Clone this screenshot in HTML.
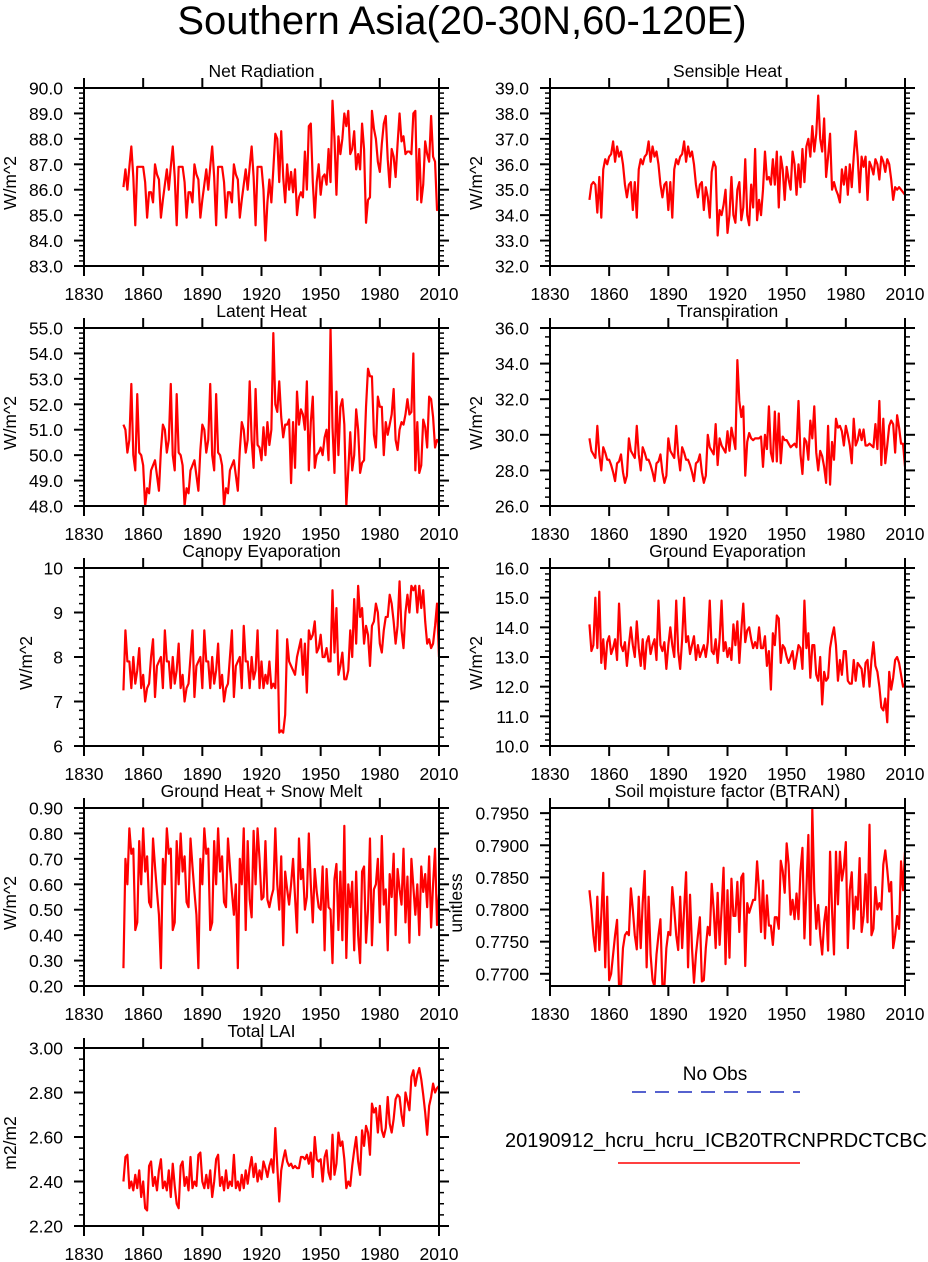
<!DOCTYPE html>
<html><head><meta charset="utf-8"><style>
html,body{margin:0;padding:0;background:#fff;}
svg{display:block;font-family:"Liberation Sans",Arial,sans-serif;}
</style></head><body>
<svg id="fig" width="928" height="1262" viewBox="0 0 928 1262" xmlns="http://www.w3.org/2000/svg">
<text x="462" y="34" text-anchor="middle" font-size="40">Southern Asia(20-30N,60-120E)</text>
<g>
<text x="715" y="1080" text-anchor="middle" font-size="19">No Obs</text>
<line x1="632" y1="1092" x2="800" y2="1092" stroke="#1f2fbf" stroke-width="1.5" stroke-dasharray="14,9"/>
<text x="716" y="1147" text-anchor="middle" font-size="20" textLength="422">20190912_hcru_hcru_ICB20TRCNPRDCTCBC</text>
<line x1="618" y1="1163" x2="800" y2="1163" stroke="#ff0000" stroke-width="1.5"/>
</g>
</svg>
<script>
const years0 = 1850;
const xTicks = [1830,1860,1890,1920,1950,1980,2010];
const netRad = [86.1,86.8,86.0,86.9,87.7,86.5,84.6,86.9,86.9,86.9, 86.9,86.3,84.9,85.9,85.9,85.5,87.0,86.6,86.4,84.9, 85.6,86.2,86.8,86.0,86.9,87.7,86.5,84.6,86.9,86.9, 86.9,86.3,84.9,85.9,85.9,85.5,87.0,86.6,86.4,84.9, 85.6,86.2,86.8,86.0,86.9,87.7,86.5,84.6,86.9,86.9, 86.9,86.3,84.9,85.9,85.9,85.5,87.0,86.6,86.4,84.9, 85.6,86.2,86.8,86.0,86.9,87.7,86.5,84.6,86.9,86.9, 86.9,86.0,84.0,85.5,86.4,85.5,86.8,88.2,88.0,86.3, 88.3,86.5,85.5,87.0,86.0,86.7,85.9,86.8,85.0,85.7, 85.9,85.7,87.5,86.0,88.5,88.6,86.3,84.9,86.3,87.0, 85.8,86.5,86.6,86.2,87.6,86.3,89.5,88.0,85.8,88.1, 87.4,88.0,89.0,88.5,89.1,87.4,87.6,88.3,86.8,87.4, 86.8,88.6,87.6,84.7,85.6,85.7,89.1,88.4,88.0,87.1, 86.7,87.8,88.6,88.9,87.2,86.1,87.6,87.3,86.5,87.8, 89.0,87.9,88.1,87.4,87.5,87.5,87.4,89.0,89.1,85.6, 87.6,85.5,86.2,87.9,87.4,87.1,88.9,87.3,87.1,85.2, 85.3];
const sensible = [34.6,35.2,35.3,35.2,34.1,35.5,33.9,35.8,36.2,36.0, 36.3,36.4,36.9,36.1,36.7,36.3,36.5,36.0,35.2,34.7, 35.2,35.3,34.2,35.3,33.9,35.8,36.2,36.0,36.3,36.4, 36.9,36.1,36.7,36.3,36.5,36.0,35.2,34.7,35.2,35.3, 34.2,35.3,33.9,35.8,36.2,36.0,36.3,36.4,36.9,36.1, 36.7,36.3,36.5,36.0,35.2,34.7,35.2,35.3,34.2,35.1, 34.7,33.9,35.7,36.1,35.9,33.2,34.2,34.0,34.4,35.0, 33.3,34.0,35.5,34.0,33.7,35.0,35.3,33.8,34.3,36.2, 34.0,33.6,35.2,34.3,36.6,33.8,34.6,34.0,35.0,36.5, 35.4,35.5,35.2,36.2,35.2,36.5,34.3,36.3,35.8,34.6, 35.9,35.4,35.0,36.5,36.0,34.8,36.0,35.1,36.6,35.3, 36.7,37.0,36.3,37.5,36.5,37.2,38.7,37.0,36.5,37.8, 35.5,36.3,37.2,35.0,35.3,35.0,34.8,34.5,35.8,35.2, 35.9,34.8,36.0,35.1,36.3,37.3,36.3,34.9,36.3,35.9, 36.3,34.6,36.1,35.9,35.6,36.2,36.0,35.4,36.3,36.1, 35.7,36.2,36.0,35.4,34.6,35.1,35.0,35.1,35.0,34.9, 34.8];
const latent = [51.2,51.0,50.1,50.6,52.8,50.0,49.4,52.4,50.1,50.0, 49.6,48.0,48.7,48.5,49.4,49.6,49.8,49.2,48.6,50.2, 51.2,51.0,50.1,50.6,52.8,50.0,49.4,52.4,50.1,50.0, 49.6,48.0,48.7,48.5,49.4,49.6,49.8,49.2,48.6,50.2, 51.2,51.0,50.1,50.6,52.8,50.0,49.4,52.4,50.1,50.0, 49.6,48.0,48.7,48.5,49.4,49.6,49.8,49.2,48.6,50.2, 51.3,51.0,50.1,50.6,52.9,50.6,49.5,52.6,50.4,50.3, 49.8,51.1,50.0,51.3,50.4,51.0,54.8,52.0,51.7,52.9, 51.5,50.7,51.2,51.2,51.4,48.9,51.3,49.5,52.5,51.2, 51.8,51.6,51.0,52.9,49.4,51.3,52.3,49.5,50.0,50.1, 50.3,50.0,50.7,51.0,49.8,55.0,51.1,49.3,52.5,50.0, 51.9,52.2,51.2,48.0,49.4,50.9,49.4,50.0,51.8,51.0, 49.3,49.7,49.8,51.9,53.4,53.1,53.1,50.8,50.3,52.3, 51.9,51.9,50.0,51.3,50.8,51.2,51.6,52.6,50.6,50.2, 51.0,51.3,51.2,51.6,52.2,51.6,51.7,54.0,49.4,51.3, 49.3,49.6,51.4,51.1,50.3,52.3,52.2,51.5,50.3,50.6, 50.5];
const transp = [29.8,29.1,28.9,28.7,30.5,28.9,28.0,29.3,29.0,28.6, 28.6,28.3,27.9,27.4,28.4,28.5,28.9,27.9,27.3,27.7, 29.8,29.1,28.9,28.7,30.5,28.9,28.0,29.3,29.0,28.6, 28.6,28.3,27.9,27.4,28.4,28.5,28.9,27.9,27.3,27.7, 29.8,29.1,28.9,28.7,30.5,28.9,28.0,29.3,29.0,28.6, 28.6,28.3,27.9,27.4,28.4,28.5,28.9,27.9,27.3,27.7, 30.0,29.3,29.1,28.9,30.6,28.3,29.8,29.4,29.2,29.0, 30.2,29.1,30.4,29.8,29.2,34.2,31.9,31.0,31.6,27.7, 29.6,30.1,29.8,29.7,29.8,29.8,29.8,29.9,28.2,30.0, 29.2,31.6,29.0,28.5,31.3,28.5,31.2,28.4,29.9,29.7, 29.7,29.5,29.3,29.4,29.5,29.3,31.9,28.9,27.8,29.8, 29.6,28.6,30.8,29.8,31.6,29.0,28.0,29.1,28.8,28.2, 27.3,30.5,27.2,29.6,28.6,30.9,30.4,30.5,30.2,29.4, 30.5,30.0,29.4,28.4,30.9,29.4,29.7,30.3,29.7,30.3, 29.4,29.4,29.5,29.4,29.3,30.6,29.2,31.9,28.3,30.9, 28.4,29.4,30.5,30.8,30.6,29.0,31.1,30.4,29.5,29.5, 28.2];
const canopy = [7.25,8.6,7.9,7.9,7.3,8.0,7.4,7.7,8.2,7.3, 7.6,7.0,7.3,7.4,8.0,8.4,7.1,7.8,7.9,8.0, 7.3,8.6,7.9,7.9,7.3,8.0,7.4,7.7,8.3,7.3, 7.6,7.0,7.3,7.4,8.0,8.6,7.1,7.8,7.9,8.0, 7.3,8.6,7.9,7.9,7.3,8.0,7.4,7.7,8.3,7.3, 7.6,7.0,7.3,7.4,8.0,8.6,7.1,7.8,7.9,8.0, 7.3,8.7,7.9,7.9,7.3,8.0,7.5,7.7,8.6,7.3, 7.9,7.3,7.6,7.4,7.9,7.3,7.4,7.3,8.6,6.3, 6.35,6.3,6.7,8.4,7.9,7.8,7.7,7.6,8.0,8.2, 8.4,7.6,8.3,7.2,8.6,8.4,8.5,8.8,8.1,8.2, 8.5,8.0,8.0,8.2,7.9,7.9,9.5,8.1,9.1,7.6, 7.8,8.1,7.5,7.5,7.7,8.6,8.0,9.3,8.3,9.6, 8.9,9.1,8.3,8.7,8.5,7.8,8.7,8.8,9.2,9.0, 8.3,8.1,8.6,8.9,8.9,9.4,9.2,8.8,8.3,8.7, 9.7,8.6,8.2,9.0,9.4,9.0,9.6,9.5,9.6,9.0, 9.6,9.1,9.5,8.8,8.3,8.4,8.2,8.3,8.7,9.2, 8.0];
const groundEvap = [14.1,13.2,13.4,15.0,13.3,15.2,12.8,13.6,12.6,13.5, 13.7,13.1,13.3,13.6,12.9,14.8,13.4,13.2,13.5,12.7, 13.4,14.0,13.4,13.0,14.2,13.3,12.7,13.6,12.6,13.5, 13.7,13.1,13.4,13.6,12.9,14.9,13.4,13.2,13.5,12.6, 13.4,14.0,13.4,13.0,14.9,13.2,12.6,13.6,15.0,13.5, 13.7,13.1,13.4,13.7,12.9,13.4,13.0,13.2,13.4,13.0, 13.5,14.9,13.2,13.1,13.6,12.8,13.6,14.9,13.2,13.5, 13.0,13.3,12.9,14.1,13.4,14.2,12.8,13.9,14.8,13.5, 13.9,14.0,13.6,13.3,13.5,13.3,14.0,13.3,13.3,13.7, 12.7,13.2,11.9,13.8,13.4,14.4,14.3,12.8,13.4,13.3, 13.0,12.8,13.0,13.2,12.6,13.0,13.4,13.3,12.6,14.9, 13.3,13.8,12.3,13.4,13.4,12.4,12.2,13.0,11.4,12.5, 12.2,12.3,13.3,13.7,14.0,13.4,12.2,12.9,12.4,13.2, 13.2,12.2,12.1,12.1,12.9,12.2,12.8,12.7,12.6,12.0, 12.8,12.9,12.0,12.9,13.5,12.7,12.5,12.0,11.3,11.2, 11.6,10.8,12.5,11.9,12.3,12.9,13.0,12.8,12.4,12.0, 12.1];
const groundHeat = [0.27,0.70,0.60,0.82,0.72,0.74,0.42,0.45,0.77,0.60, 0.82,0.65,0.71,0.53,0.51,0.78,0.67,0.57,0.48,0.27, 0.70,0.60,0.82,0.72,0.74,0.42,0.45,0.77,0.60,0.80, 0.65,0.71,0.53,0.51,0.78,0.67,0.57,0.48,0.27,0.70, 0.60,0.82,0.72,0.74,0.42,0.45,0.77,0.60,0.82,0.65, 0.71,0.53,0.51,0.78,0.67,0.57,0.48,0.60,0.27,0.70, 0.60,0.82,0.42,0.77,0.54,0.47,0.81,0.60,0.82,0.70, 0.54,0.55,0.77,0.54,0.51,0.55,0.58,0.82,0.60,0.50, 0.71,0.36,0.65,0.58,0.52,0.60,0.70,0.55,0.41,0.78, 0.62,0.66,0.50,0.55,0.80,0.60,0.45,0.66,0.57,0.51, 0.50,0.67,0.34,0.66,0.51,0.50,0.29,0.62,0.68,0.42, 0.65,0.38,0.83,0.31,0.60,0.51,0.61,0.34,0.65,0.40, 0.29,0.65,0.67,0.37,0.50,0.78,0.36,0.58,0.60,0.70, 0.45,0.79,0.52,0.58,0.34,0.64,0.55,0.72,0.40,0.66, 0.58,0.52,0.74,0.45,0.63,0.37,0.70,0.59,0.48,0.60, 0.40,0.67,0.57,0.64,0.51,0.71,0.43,0.60,0.74,0.44, 0.56];
const btran = [.7830,.7800,.7760,.7735,.7820,.7737,.7790,.7857,.7710,.7820, .7690,.7700,.7730,.7760,.7784,.7680,.7680,.7740,.7760,.7765, .7760,.7833,.7800,.7760,.7738,.7820,.7740,.7810,.7860,.7710, .7820,.7730,.7690,.7680,.7730,.7760,.7785,.7680,.7680,.7740, .7765,.7760,.7835,.7800,.7760,.7737,.7820,.7740,.7800,.7858, .7710,.7823,.7740,.7686,.7730,.7760,.7788,.7688,.7690,.7740, .7773,.7760,.7840,.7800,.7740,.7826,.7745,.7800,.7865,.7715, .7830,.7725,.7848,.7790,.7790,.7843,.7765,.7850,.7856,.7712, .7810,.7795,.7805,.7815,.7815,.7875,.7830,.7765,.7845,.7755, .7822,.7775,.7775,.7745,.7788,.7788,.7770,.7876,.7860,.7826, .7903,.7870,.7792,.7815,.7785,.7825,.7785,.7860,.7896,.7755, .7830,.7916,.7745,.7956,.7830,.7770,.7807,.7760,.7730,.7780, .7804,.7736,.7890,.7800,.7730,.7890,.7808,.7890,.7845,.7865, .7905,.7740,.7830,.7858,.7770,.7820,.7800,.7880,.7765,.7790, .7855,.7780,.7932,.7760,.7770,.7835,.7800,.7810,.7800,.7870, .7892,.7862,.7828,.7843,.7740,.7760,.7790,.7770,.7875,.7830, .7890];
const lai = [2.40,2.51,2.52,2.37,2.40,2.36,2.43,2.37,2.45,2.33, 2.40,2.28,2.27,2.47,2.49,2.38,2.42,2.36,2.45,2.50, 2.37,2.40,2.36,2.45,2.33,2.48,2.38,2.30,2.28,2.47, 2.49,2.38,2.42,2.36,2.51,2.37,2.40,2.38,2.52,2.53, 2.40,2.37,2.43,2.37,2.45,2.33,2.40,2.50,2.52,2.38, 2.42,2.36,2.45,2.37,2.40,2.38,2.52,2.37,2.40,2.36, 2.43,2.37,2.45,2.39,2.46,2.51,2.42,2.48,2.40,2.45, 2.41,2.49,2.46,2.42,2.47,2.50,2.44,2.64,2.47,2.31, 2.45,2.50,2.54,2.49,2.47,2.48,2.46,2.47,2.46,2.46, 2.51,2.51,2.50,2.52,2.48,2.53,2.42,2.60,2.50,2.49, 2.50,2.40,2.51,2.54,2.44,2.41,2.61,2.43,2.48,2.62, 2.56,2.58,2.50,2.37,2.40,2.38,2.47,2.54,2.60,2.49, 2.43,2.63,2.56,2.65,2.62,2.52,2.75,2.71,2.73,2.62, 2.74,2.63,2.60,2.64,2.78,2.66,2.62,2.68,2.77,2.79, 2.78,2.70,2.65,2.80,2.76,2.72,2.87,2.90,2.83,2.88, 2.91,2.86,2.79,2.71,2.61,2.74,2.78,2.84,2.80,2.82, 2.83];

const NS="http://www.w3.org/2000/svg";
const svg=document.getElementById('fig');
function mk(tag,attrs,parent){const e=document.createElementNS(NS,tag);for(const k in attrs)e.setAttribute(k,attrs[k]);(parent||svg).appendChild(e);return e;}

const panels=[
 {key:'net-radiation',title:'Net Radiation',data:netRad,col:0,row:0,min:83,max:90,step:1,dec:1,minor:5,unit:'W/m^2',ux:10},
 {key:'sensible-heat',title:'Sensible Heat',data:sensible,col:1,row:0,min:32,max:39,step:1,dec:1,minor:5,unit:'W/m^2',ux:476},
 {key:'latent-heat',title:'Latent Heat',data:latent,col:0,row:1,min:48,max:55,step:1,dec:1,minor:5,unit:'W/m^2',ux:10},
 {key:'transpiration',title:'Transpiration',data:transp,col:1,row:1,min:26,max:36,step:2,dec:1,minor:4,unit:'W/m^2',ux:476},
 {key:'canopy-evaporation',title:'Canopy Evaporation',data:canopy,col:0,row:2,min:6,max:10,step:1,dec:0,minor:5,unit:'W/m^2',ux:26},
 {key:'ground-evaporation',title:'Ground Evaporation',data:groundEvap,col:1,row:2,min:10,max:16,step:1,dec:1,minor:5,unit:'W/m^2',ux:476},
 {key:'ground-heat',title:'Ground Heat + Snow Melt',data:groundHeat,col:0,row:3,min:0.2,max:0.9,step:0.1,dec:2,minor:5,unit:'W/m^2',ux:10},
 {key:'soil-moisture',title:'Soil moisture factor (BTRAN)',data:btran,col:1,row:3,min:0.7681,max:0.7958,step:0.005,dec:4,minor:5,unit:'unitless',ux:456,t0:0.77,t1:0.795},
 {key:'total-lai',title:'Total LAI',data:lai,col:0,row:4,min:2.2,max:3.0,step:0.2,dec:2,minor:4,unit:'m2/m2',ux:10},
];
const colX=[[84,439],[550,905]];
const rowY=[88,328,568,808,1048];
const H=178;

panels.forEach(p=>{
 const x0=colX[p.col][0],x1=colX[p.col][1],yt=rowY[p.row],yb=yt+H;
 const g=mk('g',{});
 
 
 const xs=v=>x0+(v-1830)/180*(x1-x0);
 const ys=v=>yb-(v-p.min)/(p.max-p.min)*H;
 const cid='clip-'+p.key;
 const cp=mk('clipPath',{id:cid},g);mk('rect',{x:x0,y:yt,width:x1-x0,height:H},cp);
 const pts=p.data.map((v,i)=>xs(years0+i).toFixed(2)+','+ys(v).toFixed(2)).join(' ');
 const line=mk('polyline',{points:pts,fill:'none',stroke:'#ff0000','stroke-width':2.2,'stroke-linejoin':'round','clip-path':'url(#'+cid+')'},g);
 
 
 const box=mk('rect',{x:x0,y:yt,width:x1-x0,height:H,fill:'none',stroke:'#000','stroke-width':2},g);
 
 
 xTicks.forEach(t=>{const x=xs(t);
  mk('line',{x1:x,y1:yb,x2:x,y2:yb+10,stroke:'#000','stroke-width':2},g);
  mk('line',{x1:x,y1:yt,x2:x,y2:yt-10,stroke:'#000','stroke-width':2},g);
  const tl=mk('text',{x:x,y:yb+34,'text-anchor':'middle','font-size':17.5},g);tl.textContent=t;
  
  
 });
 const t0=p.t0!==undefined?p.t0:p.min, t1=p.t1!==undefined?p.t1:p.max;
 const n=Math.round((t1-t0)/p.step);
 for(let k=0;k<=n;k++){const v=t0+k*p.step,y=ys(v);
  mk('line',{x1:x0,y1:y,x2:x0-10,y2:y,stroke:'#000','stroke-width':2},g);
  mk('line',{x1:x1,y1:y,x2:x1+10,y2:y,stroke:'#000','stroke-width':2},g);
  const tl=mk('text',{x:x0-21,y:y+6.5,'text-anchor':'end','font-size':17.5},g);tl.textContent=v.toFixed(p.dec);
  
  
 }
 const ms=p.step/p.minor;
 for(let v=t0-p.step;v<=p.max+1e-9;v+=ms){ if(v<p.min-1e-9) continue; const y=ys(v);
  mk('line',{x1:x0,y1:y,x2:x0-5,y2:y,stroke:'#000','stroke-width':1.5},g);
  mk('line',{x1:x1,y1:y,x2:x1+5,y2:y,stroke:'#000','stroke-width':1.5},g);
 }
 const tt=mk('text',{x:(x0+x1)/2,y:yt-11,'text-anchor':'middle','font-size':17.5},g);tt.textContent=p.title;
 
 
 const cy=(yt+yb)/2;
 const yl=mk('text',{x:p.ux,y:cy,'text-anchor':'middle','font-size':17.5,transform:'rotate(-90 '+(p.ux+6)+' '+cy+')'},g);yl.textContent=p.unit;
 
 
});
</script>
</body></html>
